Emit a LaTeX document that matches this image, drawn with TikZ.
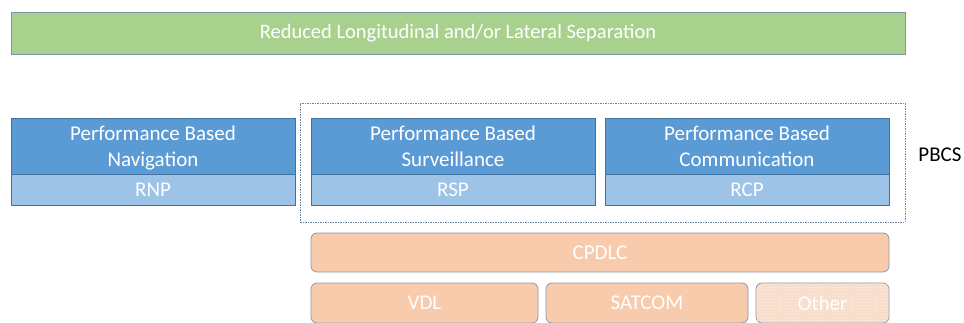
\documentclass[tikz,border=0pt]{standalone}
\usepackage{fontspec}
\setmainfont{Carlito}
\usetikzlibrary{patterns}
\definecolor{grn}{HTML}{A9D18E}
\definecolor{grnb}{HTML}{7896A6}
\definecolor{bdark}{HTML}{5B9BD5}
\definecolor{blight}{HTML}{9DC3E6}
\definecolor{bbord}{HTML}{41719C}
\definecolor{org}{HTML}{F8CBAD}
\definecolor{orglt}{HTML}{F7DCC8}
\definecolor{orgb}{HTML}{8C98A8}
\definecolor{dashc}{HTML}{6A859B}
\newcommand{\lowstrut}{\rule[-3.8pt]{0pt}{1pt}}
\begin{document}
\begin{tikzpicture}[x=1pt,y=-1pt,
  base/.style={anchor=north west,inner sep=0pt,outer sep=0pt,align=center,text=white},
  greenbox/.style={base,draw=grnb,line width=1pt,fill=grn,font=\fontsize{20.5}{24}\selectfont},
  bluetop/.style={base,draw=bbord,line width=0.8pt,fill=bdark,minimum width=284pt,minimum height=56pt,font=\fontsize{21}{26}\selectfont},
  bluebot/.style={base,draw=bbord,line width=0.8pt,fill=blight,minimum width=284pt,minimum height=31pt,font=\fontsize{21}{24}\selectfont},
  orangebox/.style={base,draw=orgb,line width=0.8pt,fill=org,rounded corners=6pt,font=\fontsize{21}{24}\selectfont},
  group/.style={anchor=north west,draw=dashc,line width=0.6pt,dash pattern=on 1.5pt off 1pt,inner sep=0pt,outer sep=0pt}]
\useasboundingbox (0,0) rectangle (964,322);
\clip (0,0) rectangle (964,322);
\fill[white] (0,0) rectangle (964,322);

\node[greenbox,minimum width=894pt,minimum height=42pt] (sep) at (11,12) {Reduced Longitudinal and/or Lateral Separation};

\node[group,minimum width=605pt,minimum height=119pt] (pbcsgrp) at (300,103) {};

\node[bluetop] (pbn) at (11,118) {\strut Performance Based\\Navigation\lowstrut};
\node[bluebot] (rnp) at (11,174) {RNP};
\node[bluetop] (pbs) at (311,118) {\strut Performance Based\\Surveillance\lowstrut};
\node[bluebot] (rsp) at (311,174) {RSP};
\node[bluetop] (pbc) at (605,118) {\strut Performance Based\\Communication\lowstrut};
\node[bluebot] (rcp) at (605,174) {RCP};

\node[anchor=center,font=\fontsize{21}{24}\selectfont,text=black] (pbcs) at (940,155) {PBCS};

\node[orangebox,minimum width=578pt,minimum height=39pt] (cpdlc) at (311,233) {CPDLC};
\node[orangebox,minimum width=227pt,minimum height=40pt] (vdl) at (311,283) {VDL};
\node[orangebox,minimum width=202pt,minimum height=40pt] (satcom) at (546,283) {SATCOM};
\node[orangebox,fill=orglt,minimum width=133pt,minimum height=40pt,
  postaction={pattern=crosshatch dots,pattern color=white!70!orglt}] (other) at (756,283) {Other};
\end{tikzpicture}
\end{document}
